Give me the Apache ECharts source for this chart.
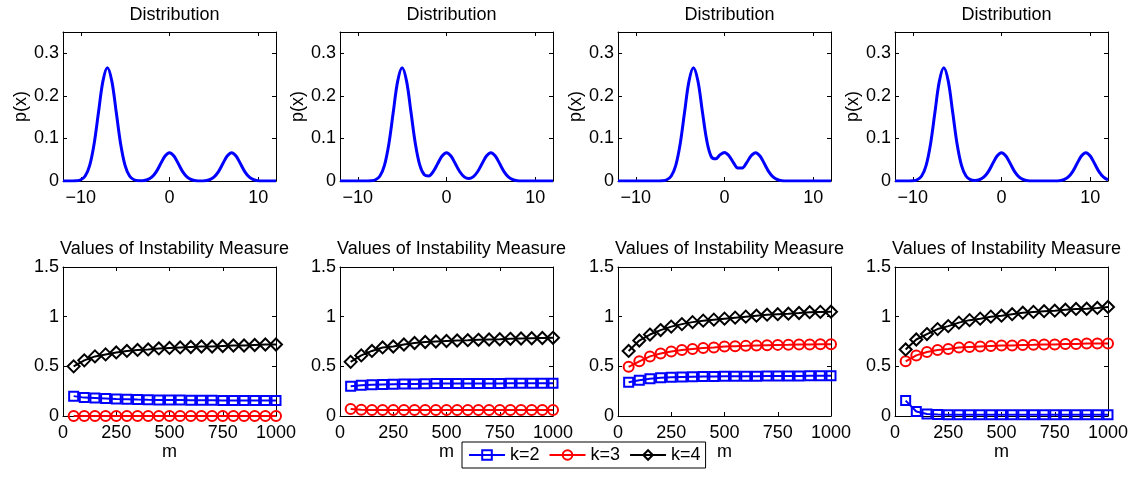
<!DOCTYPE html>
<html>
<head>
<meta charset="utf-8">
<script src="https://cdn.jsdelivr.net/npm/echarts@6/dist/echarts.min.js"></script>
<style>
html,body{margin:0;padding:0;background:#fff;}
#chart{width:1133px;height:482px;}
</style>
</head>
<body>
<div id="chart"></div>
<script>
// ---------- DATA ----------
const distX = [-12,-11.5,-11,-10.5,-10,-9.5,-9,-8.5,-8,-7.5,-7,-6.5,-6,-5.5,-5,-4.5,-4,-3.5,-3,-2.5,-2,-1.5,-1,-0.5,0,0.5,1,1.5,2,2.5,3,3.5,4,4.5,5,5.5,6,6.5,7,7.5,8,8.5,9,9.5,10,10.5,11,11.5,12];
const dist1 = [0,0,0.0001,0.0006,0.0030,0.0117,0.0360,0.0864,0.1613,0.2347,0.2660,0.2347,0.1613,0.0864,0.0360,0.0117,0.0030,0.0007,0.0008,0.0029,0.0090,0.0216,0.0403,0.0587,0.0665,0.0587,0.0403,0.0216,0.0090,0.0029,0.0007,0.0002,0.0007,0.0029,0.0090,0.0216,0.0403,0.0587,0.0665,0.0587,0.0403,0.0216,0.0090,0.0029,0.0007,0.0001,0,0,0];
const dist2 = [0,0,0,0,0,0,0.0001,0.0006,0.0030,0.0117,0.0360,0.0864,0.1613,0.2347,0.2660,0.2347,0.1613,0.0865,0.0367,0.0146,0.0120,0.0222,0.0404,0.0587,0.0665,0.0587,0.0403,0.0217,0.0097,0.0058,0.0097,0.0217,0.0403,0.0587,0.0665,0.0587,0.0403,0.0216,0.0090,0.0029,0.0007,0.0001,0,0,0,0,0,0,0];
const dist3 = [0,0,0,0,0,0,0,0,0,0.0001,0.0006,0.0030,0.0117,0.0360,0.0864,0.1613,0.2347,0.2661,0.2354,0.1642,0.0954,0.0576,0.0520,0.0617,0.0672,0.0595,0.0432,0.0306,0.0306,0.0432,0.0594,0.0666,0.0587,0.0403,0.0216,0.0090,0.0029,0.0007,0.0001,0,0,0,0,0,0,0,0,0,0];
const dist4 = [0,0,0,0.0001,0.0006,0.0030,0.0117,0.0360,0.0864,0.1613,0.2347,0.2660,0.2347,0.1613,0.0864,0.0360,0.0117,0.0031,0.0013,0.0030,0.0090,0.0216,0.0403,0.0587,0.0665,0.0587,0.0403,0.0216,0.0090,0.0029,0.0007,0.0001,0,0,0,0,0.0001,0.0007,0.0029,0.0090,0.0216,0.0403,0.0587,0.0665,0.0587,0.0403,0.0216,0.0090,0.0029];

const mValues = [50,100,150,200,250,300,350,400,450,500,550,600,650,700,750,800,850,900,950,1000];
const p1k2 = [0.20,0.185,0.18,0.175,0.17,0.168,0.165,0.163,0.162,0.16,0.16,0.159,0.158,0.158,0.157,0.157,0.156,0.156,0.155,0.155];
const p1k3 = [0,0,0,0,0,0,0,0,0,0,0,0,0,0,0,0,0,0,0,0];
const p1k4 = [0.50,0.56,0.60,0.62,0.64,0.655,0.665,0.67,0.68,0.685,0.69,0.695,0.70,0.70,0.705,0.71,0.71,0.715,0.72,0.72];
const p2k2 = [0.30,0.31,0.315,0.318,0.32,0.322,0.323,0.325,0.326,0.326,0.327,0.327,0.328,0.328,0.328,0.329,0.329,0.329,0.33,0.33];
const p2k3 = [0.07,0.062,0.06,0.06,0.06,0.06,0.06,0.06,0.06,0.06,0.06,0.06,0.06,0.06,0.06,0.06,0.06,0.06,0.06,0.06];
const p2k4 = [0.545,0.61,0.655,0.69,0.70,0.72,0.735,0.745,0.75,0.755,0.76,0.763,0.767,0.77,0.773,0.777,0.78,0.783,0.785,0.787];
const p3k2 = [0.34,0.36,0.375,0.385,0.39,0.393,0.395,0.397,0.398,0.399,0.4,0.4,0.401,0.402,0.402,0.403,0.403,0.404,0.404,0.405];
const p3k3 = [0.495,0.55,0.60,0.63,0.65,0.665,0.675,0.685,0.69,0.70,0.703,0.706,0.71,0.713,0.716,0.717,0.72,0.72,0.723,0.723];
const p3k4 = [0.655,0.76,0.82,0.865,0.90,0.925,0.945,0.96,0.97,0.98,0.99,1.0,1.01,1.02,1.025,1.03,1.037,1.045,1.048,1.05];
const p4k2 = [0.155,0.045,0.02,0.015,0.013,0.012,0.012,0.012,0.012,0.012,0.012,0.012,0.012,0.012,0.012,0.012,0.012,0.012,0.012,0.012];
const p4k3 = [0.55,0.61,0.645,0.665,0.675,0.69,0.695,0.70,0.705,0.71,0.71,0.715,0.717,0.72,0.72,0.725,0.725,0.73,0.73,0.73];
const p4k4 = [0.67,0.77,0.825,0.875,0.905,0.94,0.965,0.98,1.0,1.01,1.025,1.04,1.048,1.055,1.06,1.07,1.078,1.08,1.088,1.098];

const distTicksX = [-10, 0, 10];
const distTicksY = [0, 0.1, 0.2, 0.3];
const seriesNames = ['k=2', 'k=3', 'k=4'];
const topTitle = 'Distribution';
const bottomTitle = 'Values of Instability Measure';
const yNameTop = 'p(x)';
const xNameBottom = 'm';

// ---------- LAYOUT ----------
const FONT = 'Liberation Sans, Arial, Helvetica, sans-serif';
const lefts = [63, 340, 618, 895];
const W = 213, H = 149;
const topY = 32, botY = 267;

const grids = [], xAxes = [], yAxes = [], titles = [], series = [];
const distData = [dist1, dist2, dist3, dist4];
const instData = [[p1k2, p1k3, p1k4], [p2k2, p2k3, p2k4], [p3k2, p3k3, p3k4], [p4k2, p4k3, p4k4]];
const colors = ['#0000ff', '#ff0000', '#000000'];
const symbols = ['rect', 'circle', 'diamond'];
const symSizes = [9, 10, 12];

const axLine = {show: true, onZero: false, lineStyle: {color: '#000', width: 1}};
const lblStyle = {color: '#000', fontSize: 18, fontFamily: FONT};
const minusFmt = v => (v < 0 ? '\u2212' + Math.abs(v) : String(v));
const plainFmt = v => String(v);

function addBox(gi, xCfg, yCfg) {
  xAxes.push(Object.assign({gridIndex: gi, type: 'value', position: 'bottom', axisLine: axLine,
    splitLine: {show: false}}, xCfg(true)));
  const xi = xAxes.length - 1;
  xAxes.push(Object.assign({gridIndex: gi, type: 'value', position: 'top', axisLine: axLine,
    splitLine: {show: false}}, xCfg(false)));
  yAxes.push(Object.assign({gridIndex: gi, type: 'value', position: 'left', axisLine: axLine,
    splitLine: {show: false}}, yCfg(true)));
  const yi = yAxes.length - 1;
  yAxes.push(Object.assign({gridIndex: gi, type: 'value', position: 'right', axisLine: axLine,
    splitLine: {show: false}}, yCfg(false)));
  return [xi, yi];
}

for (let i = 0; i < 4; i++) {
  // top: distribution
  grids.push({left: lefts[i], top: topY, width: W, height: H});
  let gi = grids.length - 1;
  let [xi, yi] = addBox(gi,
    primary => ({min: -12, max: 12,
      axisTick: {show: true, inside: true, length: 4, customValues: distTicksX, lineStyle: {color: '#000'}},
      axisLabel: {show: primary, customValues: distTicksX, formatter: minusFmt, margin: 8, ...lblStyle}}),
    primary => ({min: 0, max: 0.35,
      name: primary ? yNameTop : '', nameLocation: 'middle', nameGap: 33, nameRotate: 90,
      nameTextStyle: lblStyle,
      axisTick: {show: true, inside: true, length: 4, customValues: distTicksY, lineStyle: {color: '#000'}},
      axisLabel: {show: primary, customValues: distTicksY, formatter: plainFmt, margin: 4, ...lblStyle}}));
  series.push({
    type: 'line', xAxisIndex: xi, yAxisIndex: yi, showSymbol: false, smooth: 0.35,
    data: distX.map((x, j) => [x, distData[i][j]]),
    lineStyle: {color: '#0000ff', width: 3}, itemStyle: {color: '#0000ff'},
    clip: true, silent: true
  });
  titles.push({text: topTitle, left: lefts[i] + W / 2, top: 1, textAlign: 'center',
    textStyle: {fontSize: 18, fontWeight: 'normal', color: '#000', fontFamily: FONT}});

  // bottom: instability measure
  grids.push({left: lefts[i], top: botY, width: W, height: H});
  gi = grids.length - 1;
  [xi, yi] = addBox(gi,
    primary => ({min: 0, max: 1000, interval: 250,
      name: primary ? xNameBottom : '', nameLocation: 'middle', nameGap: 26,
      nameTextStyle: lblStyle,
      axisTick: {show: true, inside: true, length: 4, lineStyle: {color: '#000'}},
      axisLabel: {show: primary, margin: 8, formatter: plainFmt, ...lblStyle}}),
    primary => ({min: 0, max: 1.5, interval: 0.5,
      axisTick: {show: true, inside: true, length: 4, lineStyle: {color: '#000'}},
      axisLabel: {show: primary, margin: 4, formatter: plainFmt, ...lblStyle}}));
  for (let k = 0; k < 3; k++) {
    series.push({
      name: seriesNames[k], type: 'line', xAxisIndex: xi, yAxisIndex: yi,
      data: mValues.map((m, j) => [m, instData[i][k][j]]),
      symbol: symbols[k], symbolSize: symSizes[k], showSymbol: true,
      lineStyle: {color: colors[k], width: 2},
      itemStyle: {color: 'rgba(255,255,255,0)', borderColor: colors[k], borderWidth: 2},
      clip: false, silent: true
    });
  }
  titles.push({text: bottomTitle, left: lefts[i] + W / 2, top: 235, textAlign: 'center',
    textStyle: {fontSize: 18, fontWeight: 'normal', color: '#000', fontFamily: FONT}});
}

const chart = echarts.init(document.getElementById('chart'), null, {renderer: 'canvas'});
chart.setOption({
  animation: false,
  backgroundColor: '#fff',
  title: titles,
  grid: grids,
  xAxis: xAxes,
  yAxis: yAxes,
  legend: {
    data: seriesNames, left: 462, top: 442, orient: 'horizontal',
    itemWidth: 36, itemHeight: 12, itemGap: 9,
    padding: [4, 5, 4, 6],
    borderColor: '#000', borderWidth: 1, backgroundColor: '#fff',
    textStyle: {fontSize: 18, color: '#000', fontFamily: FONT}
  },
  series: series
});
</script>
</body>
</html>
